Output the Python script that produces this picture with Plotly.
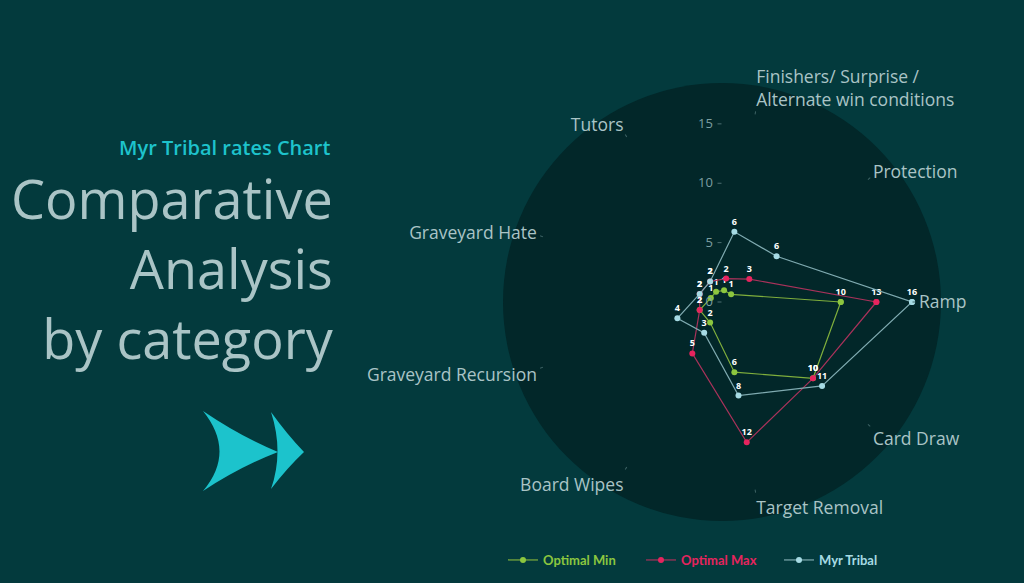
import plotly.graph_objects as go

W, H = 1024, 583

categories = ["Ramp", "Protection", "Finishers/ Surprise /<br>Alternate win conditions",
              "Tutors", "Graveyard Hate", "Graveyard Recursion", "Board Wipes",
              "Target Removal", "Card Draw"]
optimal_min = [10, 1, 1, 1, 1, 2, 2, 6, 10]
optimal_max = [13, 3, 2, 2, 2, 2, 5, 12, 10]
myr_tribal = [16, 6, 6, 2, 2, 4, 3, 8, 11]

radial_ticks = [0, 5, 10, 15]

series = [
    ("Optimal Min", optimal_min, "#8cc63f", "#7fae3c"),
    ("Optimal Max", optimal_max, "#e6245e", "#a8325a"),
    ("Myr Tribal", myr_tribal, "#a6dbe4", "#7faab0"),
]

title_lines = ["Comparative", "Analysis", "by category"]

BG = "#033a3d"
CIRCLE = "#022729"
TXT = "#aac4c6"
FONT = "Open Sans"


def px(x, y):
    # pixel -> paper coords (margins are zero)
    return x / W, 1 - y / H


fig = go.Figure()

for name, vals, mcol, lcol in series:
    fig.add_trace(go.Scatterpolar(
        r=vals + vals[:1],
        theta=categories + categories[:1],
        mode="lines+markers+text",
        text=[str(v) for v in vals] + [""],
        textposition="top center",
        textfont=dict(size=9, color="white", family=FONT, weight="bold"),
        line=dict(color=lcol, width=1.2),
        marker=dict(color=mcol, size=6),
        name="<span style='color:%s'><b>%s</b></span>" % (mcol, name),
        cliponaxis=False,
    ))

# dark disc behind the radar
x0, y0 = px(503, 83)
x1, y1 = px(941, 521)
shapes = [dict(type="circle", xref="paper", yref="paper", x0=x0, x1=x1, y0=y1, y1=y0,
               fillcolor=CIRCLE, line=dict(width=0), layer="below")]


# double arrow decoration
def arrow_head(bx, top, tipx, tipy, bot, ctrlx, bend):
    a = px(bx, top)
    t = px(tipx, tipy)
    b = px(bx, bot)
    c = px(ctrlx, tipy)
    q1 = px((bx + tipx) / 2, (top + tipy) / 2 + bend)
    q2 = px((bx + tipx) / 2, (bot + tipy) / 2 - bend)
    return ("M %f,%f Q %f,%f %f,%f Q %f,%f %f,%f Q %f,%f %f,%f Z" %
            (a[0], a[1], q1[0], q1[1], t[0], t[1], q2[0], q2[1], b[0], b[1],
             c[0], c[1], a[0], a[1]))


for head in [(203, 411, 278, 452, 491, 236, 5), (271, 412, 304, 452, 489, 284, 3)]:
    shapes.append(dict(type="path", xref="paper", yref="paper", path=arrow_head(*head),
                       fillcolor="#1cc3cc", line=dict(width=0), layer="above"))

annotations = [
    dict(text="Myr Tribal rates Chart", x=333 / W, y=1 - 147 / H, xref="paper", yref="paper",
         xanchor="right", yanchor="middle", showarrow=False,
         font=dict(size=20, color="#1ec3cc", family=FONT, weight=600)),
    dict(text="<br>".join(title_lines), x=336 / W, y=1 - 268 / H,
         xref="paper", yref="paper", xanchor="right", yanchor="middle", align="right",
         showarrow=False, font=dict(size=54, color=TXT, family=FONT)),
]

cx, cy = px(722, 302)
rx = 190 / W
ry = 190 / H

fig.update_layout(
    width=W, height=H,
    margin=dict(l=0, r=0, t=0, b=0),
    paper_bgcolor=BG,
    plot_bgcolor=BG,
    font=dict(family=FONT, color=TXT),
    shapes=shapes,
    annotations=annotations,
    polar=dict(
        domain=dict(x=[cx - rx, cx + rx], y=[cy - ry, cy + ry]),
        bgcolor="rgba(0,0,0,0)",
        radialaxis=dict(range=[0, 16], tickvals=radial_ticks, angle=90, tickangle=90,
                        showgrid=False, showline=False, ticks="outside", ticklen=4,
                        tickcolor="#4d6f72", side="counterclockwise",
                        tickfont=dict(size=13, color="#7c9ea1")),
        angularaxis=dict(rotation=0, direction="counterclockwise", showgrid=False,
                         showline=False, ticks="outside", ticklen=3, tickcolor="#3f6466",
                         tickfont=dict(size=17.5, color=TXT)),
    ),
    legend=dict(orientation="h", x=503 / W, xanchor="left", y=1 - 560 / H, yanchor="middle",
                font=dict(size=13, family="Lato"), bgcolor="rgba(0,0,0,0)", itemwidth=30,
                entrywidth=93),
)

fig.write_html("out.html", config={"displayModeBar": False},
               post_script="document.body.style.margin='0';")
